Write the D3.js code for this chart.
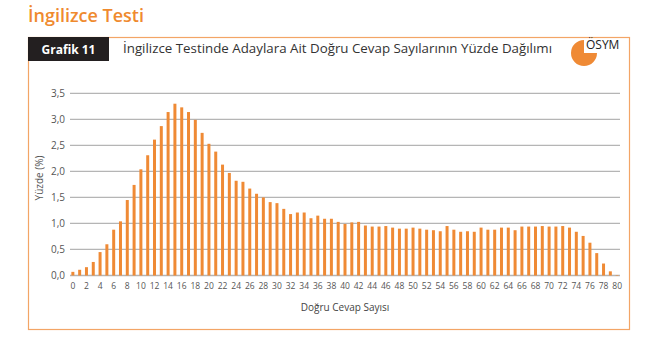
<!DOCTYPE html>
<html><head><meta charset="utf-8">
<script src="https://cdn.jsdelivr.net/npm/d3@7"></script>
<style>body{margin:0;background:#fff;}svg{display:block;font-family:'Open Sans',sans-serif;}</style>
</head><body>
<svg id="c" width="650" height="350"></svg>
<script>
const pageTitle = "İngilizce Testi";
const chartLabel = "Grafik 11";
const chartTitle = "İngilizce Testinde Adaylara Ait Doğru Cevap Sayılarının Yüzde Dağılımı";
const xTitle = "Doğru Cevap Sayısı";
const yTitle = "Yüzde (%)";
const categories = d3.range(0, 81);
const values = [0.07,0.11,0.16,0.26,0.45,0.60,0.88,1.04,1.45,1.74,
 2.04,2.31,2.61,2.87,3.14,3.30,3.23,3.14,2.99,2.74,
 2.53,2.38,2.13,1.97,1.82,1.80,1.67,1.57,1.50,1.41,
 1.39,1.28,1.18,1.21,1.21,1.10,1.15,1.09,1.09,1.03,
 0.99,1.02,1.03,0.96,0.94,0.94,0.95,0.92,0.90,0.90,
 0.92,0.90,0.88,0.87,0.85,0.95,0.88,0.84,0.85,0.84,
 0.92,0.88,0.88,0.92,0.92,0.87,0.94,0.94,0.94,0.95,
 0.94,0.94,0.95,0.92,0.84,0.76,0.63,0.43,0.23,0.08,0.01];
const yTicks = [0,0.5,1,1.5,2,2.5,3,3.5];
const xTickLabels = d3.range(0, 81, 2);

const orange = "#EF8A35";
const svg = d3.select("#c");

svg.append("text").attr("x", 28).attr("y", 22).attr("fill", "#EF8A2E")
  .attr("font-size", 18).attr("font-weight", 600).text(pageTitle);

svg.append("rect").attr("x", 28.5).attr("y", 37.5).attr("width", 601).attr("height", 292)
  .attr("fill", "none").attr("stroke", "#F3A566").attr("stroke-width", 1.2);
svg.append("rect").attr("x", 28).attr("y", 37).attr("width", 81).attr("height", 24).attr("fill", "#231F20");
svg.append("text").attr("x", 68.5).attr("y", 53.5).attr("text-anchor", "middle").attr("fill", "#fff")
  .attr("font-size", 12).attr("font-weight", 700).text(chartLabel);
svg.append("text").attr("x", 123).attr("y", 53).attr("fill", "#333")
  .attr("font-size", 12.5).attr("textLength", 429).attr("lengthAdjust", "spacingAndGlyphs").text(chartTitle);

// logo
const arc = d3.arc().innerRadius(0).outerRadius(13);
svg.append("path").attr("transform", "translate(584,53)")
  .attr("d", arc({startAngle: Math.PI/2, endAngle: 2*Math.PI})).attr("fill", orange);
svg.append("text").attr("x", 586).attr("y", 49).attr("fill", "#222").attr("font-size", 12).text("ÖSYM");

const x = d3.scaleBand().domain(categories).range([70, 620]).paddingInner(0.56).paddingOuter(0.2);
const y = d3.scaleLinear().domain([0, 3.5]).range([275.5, 93.3]);

const grid = svg.append("g");
grid.selectAll("line").data(yTicks).join("line")
  .attr("x1", 70).attr("x2", 620).attr("y1", d => y(d)).attr("y2", d => y(d))
  .attr("stroke", "#b5b5b5").attr("stroke-width", 1.3);
grid.selectAll("text").data(yTicks).join("text")
  .attr("x", 65).attr("y", d => y(d) + 3.5).attr("text-anchor", "end")
  .attr("font-size", 10).attr("fill", "#555").text(d => d3.format(".1f")(d).replace(".", ","));

svg.append("g").selectAll("rect").data(values).join("rect")
  .attr("x", (d, i) => x(categories[i])).attr("width", x.bandwidth())
  .attr("y", d => y(d)).attr("height", d => y(0) - y(d)).attr("fill", orange);

svg.append("g").selectAll("text").data(xTickLabels).join("text")
  .attr("x", d => x(d) + x.bandwidth()/2).attr("y", 289).attr("text-anchor", "middle")
  .attr("font-size", 8.5).attr("fill", "#555").text(d => d);

svg.append("text").attr("x", 345).attr("y", 311).attr("text-anchor", "middle")
  .attr("font-size", 10).attr("fill", "#444").text(xTitle);
svg.append("text").attr("transform", "translate(43,178) rotate(-90)").attr("text-anchor", "middle")
  .attr("font-size", 10).attr("fill", "#555").text(yTitle);
</script>
</body></html>
